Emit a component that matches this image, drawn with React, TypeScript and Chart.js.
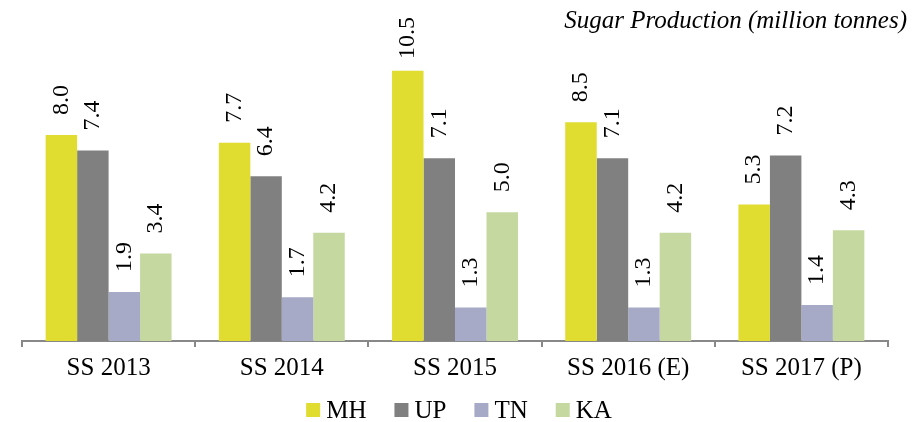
import React, { useEffect, useRef } from 'react';
import { Chart, registerables } from 'chart.js';

Chart.register(...registerables);

const categories = ['SS 2013', 'SS 2014', 'SS 2015', 'SS 2016 (E)', 'SS 2017 (P)'];
const seriesNames = ['MH', 'UP', 'TN', 'KA'];
const mhValues = [8.0, 7.7, 10.5, 8.5, 5.3];
const upValues = [7.4, 6.4, 7.1, 7.1, 7.2];
const tnValues = [1.9, 1.7, 1.3, 1.3, 1.4];
const kaValues = [3.4, 4.2, 5.0, 4.2, 4.3];
const seriesColors = ['#E0DC30', '#808080', '#A6AAC6', '#C5D89F'];
const chartTitle = 'Sugar Production (million tonnes)';

const FONT = '"Liberation Serif", "Times New Roman", serif';

const valueLabels = {
  id: 'valueLabels',
  afterDatasetsDraw(chart: any) {
    const ctx = chart.ctx;
    ctx.save();
    ctx.font = `24px ${FONT}`;
    ctx.fillStyle = '#000';
    ctx.textAlign = 'left';
    ctx.textBaseline = 'middle';
    chart.data.datasets.forEach((ds: any, i: number) => {
      const meta = chart.getDatasetMeta(i);
      meta.data.forEach((bar: any, j: number) => {
        const text = Number(ds.data[j]).toFixed(1);
        const w = ctx.measureText(text).width;
        let start = bar.y - 20;
        if (start - w < 17) start = 17 + w;
        ctx.save();
        ctx.translate(bar.x, start);
        ctx.rotate(-Math.PI / 2);
        ctx.fillText(text, 0, 0);
        ctx.restore();
      });
    });
    ctx.restore();
  },
};

const titlePlugin = {
  id: 'cornerTitle',
  afterDraw(chart: any) {
    const ctx = chart.ctx;
    ctx.save();
    ctx.font = `italic 25px ${FONT}`;
    ctx.fillStyle = '#000';
    ctx.textAlign = 'right';
    ctx.textBaseline = 'alphabetic';
    ctx.fillText(chartTitle, 907, 28);
    ctx.restore();
  },
};

const legendPlugin = {
  id: 'bottomLegend',
  afterDraw(chart: any) {
    const ctx = chart.ctx;
    ctx.save();
    ctx.font = `25px ${FONT}`;
    ctx.textBaseline = 'middle';
    ctx.textAlign = 'left';
    const box = 14;
    const gap = 6;
    const spacing = 28;
    const widths = seriesNames.map((n) => ctx.measureText(n).width);
    const total = widths.reduce((a, w) => a + box + gap + w, 0) + spacing * (seriesNames.length - 1);
    let x = 459 - total / 2;
    const cy = 410;
    seriesNames.forEach((n, i) => {
      ctx.fillStyle = seriesColors[i];
      ctx.fillRect(x, cy - box / 2, box, box);
      ctx.fillStyle = '#000';
      ctx.fillText(n, x + box + gap, cy + 1);
      x += box + gap + widths[i] + spacing;
    });
    ctx.restore();
  },
};

export default function App() {
  const canvasRef = useRef<HTMLCanvasElement | null>(null);

  useEffect(() => {
    document.body.style.margin = '0';
    const canvas = canvasRef.current;
    if (!canvas) return;
    const allValues = [mhValues, upValues, tnValues, kaValues];
    const chart = new Chart(canvas, {
      type: 'bar',
      data: {
        labels: categories,
        datasets: seriesNames.map((name, i) => ({
          label: name,
          data: allValues[i],
          backgroundColor: seriesColors[i],
          borderWidth: 0,
          barPercentage: 1,
          categoryPercentage: 0.727,
        })),
      },
      options: {
        animation: false,
        responsive: false,
        devicePixelRatio: 1,
        layout: { padding: { top: 32, left: 22, right: 35, bottom: 32 } },
        plugins: {
          legend: { display: false },
          title: { display: false },
          tooltip: { enabled: false },
        },
        scales: {
          x: {
            grid: {
              display: true,
              drawOnChartArea: false,
              drawTicks: true,
              tickLength: 6,
              color: '#888',
              lineWidth: 2,
              offset: true,
            },
            border: { display: true, color: '#888', width: 2 },
            ticks: {
              color: '#000',
              padding: 9,
              font: { family: FONT, size: 25, lineHeight: 1 },
            },
          },
          y: { display: false, min: 0, max: 12 },
        },
      },
      plugins: [valueLabels, titlePlugin, legendPlugin],
    });
    return () => chart.destroy();
  }, []);

  return (
    <div style={{ width: 923, height: 422 }}>
      <canvas ref={canvasRef} width={923} height={422} style={{ display: 'block' }} />
    </div>
  );
}
